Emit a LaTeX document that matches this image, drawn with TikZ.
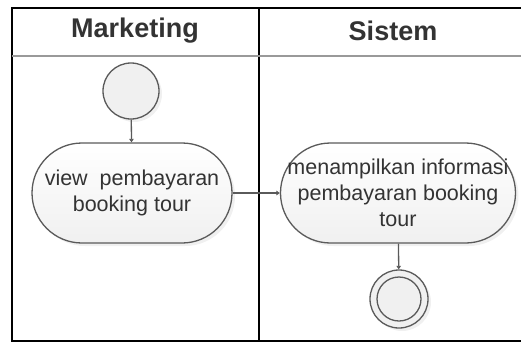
\documentclass[tikz,border=0pt]{standalone}
\usepackage{fontspec}
\setmainfont{Liberation Sans}
\usetikzlibrary{arrows.meta,shadows}

\definecolor{linegray}{HTML}{5A5A5A}
\definecolor{fillgray}{HTML}{F0F0F0}
\definecolor{textgray}{HTML}{333333}

\begin{document}
\begin{tikzpicture}[x=1pt,y=-1pt,
    lane/.style={line width=2pt,black},
    activity/.style={draw=linegray,line width=1.3pt,top color=white,bottom color=fillgray,
      rounded corners=50pt,minimum width=200pt,minimum height=100pt,align=center,
      text=textgray,font=\fontsize{21.5}{26}\selectfont,inner sep=0pt,
      drop shadow={opacity=0.12,shadow xshift=3pt,shadow yshift=-3pt}},
    startnode/.style={circle,draw=linegray,line width=1.3pt,fill=fillgray,minimum size=56pt,
      inner sep=0pt,drop shadow={opacity=0.12,shadow xshift=3pt,shadow yshift=-3pt}},
    endnode/.style={circle,draw=linegray,line width=1.3pt,fill=fillgray,minimum size=58pt,
      inner sep=0pt,drop shadow={opacity=0.12,shadow xshift=3pt,shadow yshift=-3pt}},
    flow/.style={draw=linegray,line width=1.3pt,-{Triangle[length=3.5pt,width=4.5pt]}},
    header/.style={font=\fontsize{27}{32}\selectfont\bfseries,text=textgray}]
    \useasboundingbox (0,0) rectangle (521,343);

    % swimlanes
    \draw[lane] (521,8) -- (12,8) -- (12,341) -- (521,341);
    \draw[lane] (259,8) -- (259,341);
    \draw[line width=2pt,gray!80] (12,56) -- (521,56);

    \node[header] (marketing) at (135,31) {Marketing};
    \node[header] (sistem)    at (393,31) {Sistem};

    % nodes
    \node[startnode] (start) at (131,91) {};
    \node[activity] (view) at (132,193) {view\ \ pembayaran\\booking tour};
    \node[activity,minimum width=235pt] (tampil) at (398,193)
      {menampilkan informasi\\pembayaran booking\\tour};
    \node[endnode] (end) at (399,299) {};
    \draw[linegray,line width=1.3pt] (end.center) circle (22);

    % flows
    \draw[flow] (start) -- (view);
    \draw[flow] (view) -- (tampil);
    \draw[flow] (tampil) -- (end);
  \end{tikzpicture}
\end{document}
